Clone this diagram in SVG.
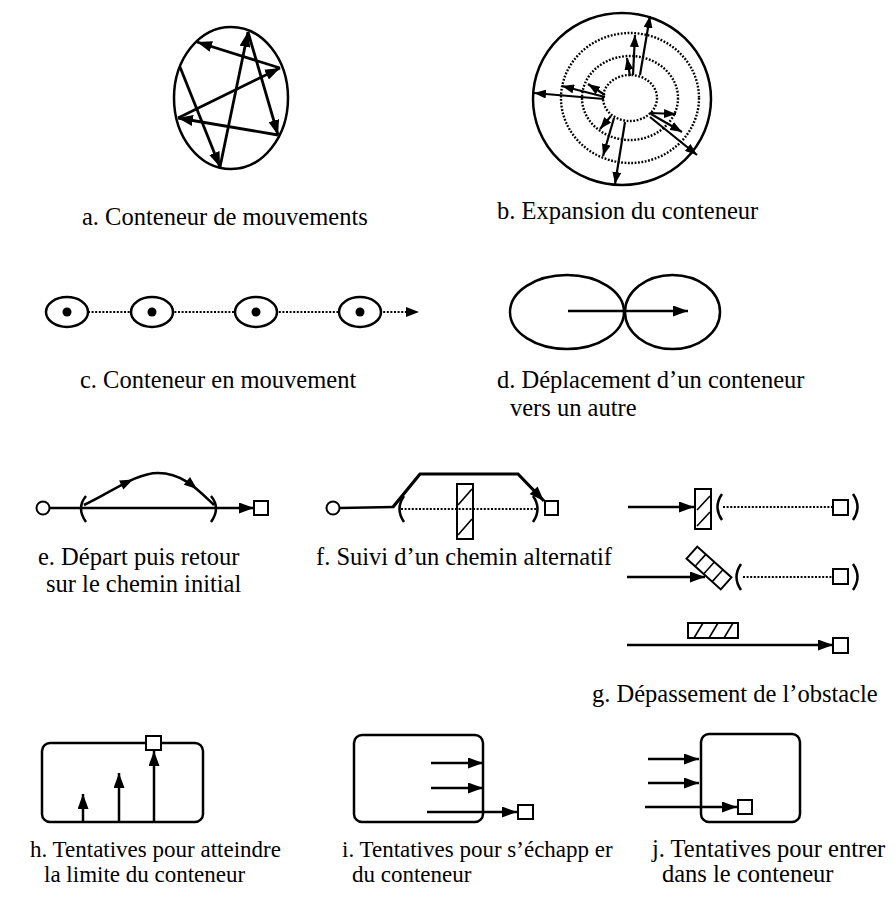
<svg xmlns="http://www.w3.org/2000/svg" width="896" height="904" viewBox="0 0 896 904">
<style>
.s{fill:none;stroke:#000;stroke-width:2.5}
.t{fill:none;stroke:#000;stroke-width:2.2}
.d{fill:none;stroke:#000;stroke-width:2;stroke-dasharray:2 1.6}
.w{fill:#fff;stroke:#000;stroke-width:2}
.dot{fill:none;stroke:#000;stroke-width:2.4;stroke-dasharray:1.8 1.6}
.h{stroke:#000;stroke-width:1.6}
.lbl{font-family:"Liberation Serif","Times New Roman","DejaVu Serif",serif;font-size:24.5px;fill:#000}
.sm{font-size:23px}
</style>
<defs>
<marker id="ah" viewBox="0 0 13 10" refX="13" refY="5" markerWidth="13" markerHeight="10" markerUnits="userSpaceOnUse" orient="auto"><path d="M0,0 L13,5 L0,10 z"/></marker>
<marker id="al" viewBox="0 0 15 11" refX="15" refY="5.5" markerWidth="15" markerHeight="11" markerUnits="userSpaceOnUse" orient="auto"><path d="M0,0 L15,5.5 L0,11 z"/></marker>
<marker id="as" viewBox="0 0 12 9" refX="12" refY="4.5" markerWidth="12" markerHeight="9" markerUnits="userSpaceOnUse" orient="auto"><path d="M0,0 L12,4.5 L0,9 z"/></marker>
<path id="tri" d="M0,0 L-13,-5 L-13,5 z"/>
</defs>

<g id="a">
<ellipse class="s" cx="231" cy="98" rx="57" ry="71"/>
<g class="s" style="stroke-width:2.8" marker-end="url(#al)">
<line x1="180" y1="67" x2="220" y2="167"/>
<line x1="220" y1="167" x2="248" y2="32"/>
<line x1="248" y1="32" x2="278" y2="135"/>
<line x1="278" y1="135" x2="178" y2="118"/>
<line x1="178" y1="118" x2="280" y2="68"/>
<line x1="280" y1="68" x2="197" y2="42"/>
</g>
<text class="lbl" x="82" y="225">a. Conteneur de mouvements</text>
</g>

<g id="b">
<ellipse class="s" cx="622" cy="99" rx="89" ry="86"/>
<ellipse class="dot" cx="630" cy="98" rx="69" ry="65"/>
<ellipse class="dot" cx="630" cy="98" rx="48" ry="42"/>
<ellipse class="dot" cx="630" cy="98" rx="27" ry="23"/>
<g class="t" marker-end="url(#as)">
<line x1="630" y1="76" x2="627" y2="58"/>
<line x1="633" y1="75" x2="635" y2="35"/>
<line x1="640" y1="75" x2="650" y2="16"/>
<line x1="605" y1="95" x2="588" y2="84"/>
<line x1="605" y1="97" x2="562" y2="86"/>
<line x1="604" y1="99" x2="534" y2="93"/>
<line x1="611" y1="116" x2="600" y2="129"/>
<line x1="614" y1="118" x2="603" y2="156"/>
<line x1="625" y1="122" x2="615" y2="184"/>
<line x1="650" y1="113" x2="676" y2="114"/>
<line x1="651" y1="114" x2="682" y2="132"/>
<line x1="650" y1="117" x2="697" y2="155"/>
</g>
<text class="lbl" x="497" y="219">b. Expansion du conteneur</text>
</g>

<g id="c">
<line class="d" x1="88" y1="312" x2="414" y2="312"/>
<polygon points="419,312 406,307 406,317"/>
<ellipse class="w" cx="67" cy="312" rx="21" ry="15" style="stroke-width:2.5"/>
<ellipse class="w" cx="152" cy="312" rx="21" ry="15" style="stroke-width:2.5"/>
<ellipse class="w" cx="256" cy="312" rx="21" ry="15" style="stroke-width:2.5"/>
<ellipse class="w" cx="360" cy="312" rx="21" ry="15" style="stroke-width:2.5"/>
<circle cx="67" cy="312" r="4.5"/>
<circle cx="152" cy="312" r="4.5"/>
<circle cx="256" cy="312" r="4.5"/>
<circle cx="360" cy="312" r="4.5"/>
<text class="lbl" x="80" y="388">c. Conteneur en mouvement</text>
</g>

<g id="d">
<ellipse class="s" cx="567" cy="312" rx="57" ry="37"/>
<ellipse class="s" cx="672.5" cy="312" rx="47.5" ry="37"/>
<line class="s" x1="568" y1="311" x2="688" y2="311" marker-end="url(#al)"/>
<text class="lbl" x="497" y="388">d. Déplacement d’un conteneur</text>
<text class="lbl" x="510" y="416">vers un autre</text>
</g>

<g id="e">
<line class="s" x1="49.5" y1="508" x2="254" y2="508" marker-end="url(#al)"/>
<circle class="w" cx="43" cy="508" r="6.5"/>
<rect class="w" x="254" y="501" width="14" height="14"/>
<path class="s" d="M86,496 Q76,508 86,522"/>
<path class="s" d="M211,496 Q221,508 211,522"/>
<path class="s" d="M84,505 C112,492 136,473 158,473 C184,473 200,492 214,505"/>
<use href="#tri" transform="translate(133,479.5) rotate(-25)"/>
<use href="#tri" transform="translate(197,489) rotate(39)"/>
<text class="lbl" x="38" y="565">e. Départ puis retour</text>
<text class="lbl" x="46" y="592">sur le chemin initial</text>
</g>

<g id="f">
<line class="s" x1="339.5" y1="508" x2="394" y2="507"/>
<circle class="w" cx="333" cy="508" r="6.5"/>
<rect class="w" x="457" y="484" width="16" height="55"/>
<line class="h" x1="458" y1="505" x2="472" y2="489"/>
<line class="h" x1="458" y1="535" x2="472" y2="519"/>
<line class="d" x1="401" y1="509" x2="537" y2="509"/>
<path class="s" d="M404,496 Q395,509 404,522"/>
<path class="s" d="M533,496 Q542,509 533,522"/>
<path d="M393,507 L420,474 L518,474 L544,501" style="fill:none;stroke:#000;stroke-width:3.2;stroke-linejoin:miter" marker-end="url(#al)"/>
<rect class="w" x="545" y="501" width="13" height="14"/>
<text class="lbl" x="316" y="565">f. Suivi d’un chemin alternatif</text>
</g>

<g id="g">
<line class="s" x1="628" y1="507" x2="694" y2="507" marker-end="url(#al)"/>
<rect class="w" x="695" y="489" width="16" height="40"/>
<line class="h" x1="697" y1="510" x2="710" y2="496"/>
<line class="h" x1="697" y1="526" x2="710" y2="512"/>
<path class="s" d="M722,494 Q713,507 722,520"/>
<line class="d" x1="723" y1="507" x2="833" y2="507"/>
<rect class="w" x="833" y="500" width="15" height="15"/>
<path class="s" d="M853,494 Q862,507 853,520"/>

<line class="s" x1="627" y1="577" x2="705" y2="577" marker-end="url(#al)"/>
<g transform="rotate(42 709 568)">
<rect class="w" x="686" y="560" width="46" height="16"/>
<line class="h" x1="697.5" y1="560" x2="697.5" y2="576"/>
<line class="h" x1="709" y1="560" x2="709" y2="576"/>
<line class="h" x1="720.5" y1="560" x2="720.5" y2="576"/>
</g>
<path class="s" d="M741,564 Q732,577 741,590"/>
<line class="d" x1="743" y1="577" x2="833" y2="577"/>
<rect class="w" x="833" y="569" width="15" height="15"/>
<path class="s" d="M853,564 Q862,577 853,590"/>

<rect class="w" x="688" y="623" width="50" height="15"/>
<line class="h" x1="694" y1="638" x2="703" y2="623"/>
<line class="h" x1="709" y1="638" x2="718" y2="623"/>
<line class="h" x1="724" y1="638" x2="733" y2="623"/>
<line class="s" x1="627" y1="645" x2="833" y2="645" marker-end="url(#al)"/>
<rect class="w" x="833" y="638" width="15" height="15"/>
<text class="lbl" x="592" y="702">g. Dépassement de l’obstacle</text>
</g>

<g id="h">
<rect class="s" x="42" y="743" width="161" height="79" rx="8"/>
<g class="s" marker-end="url(#al)">
<line x1="83" y1="822" x2="83" y2="794"/>
<line x1="119" y1="822" x2="119" y2="773"/>
<line x1="154" y1="822" x2="154" y2="751"/>
</g>
<rect class="w" x="146" y="736" width="15" height="14"/>
<text class="lbl sm" x="30" y="857">h. Tentatives pour atteindre</text>
<text class="lbl sm" x="44" y="882">la limite du conteneur</text>
</g>

<g id="i">
<rect class="s" x="354" y="735" width="129" height="87" rx="8"/>
<g class="s" marker-end="url(#al)">
<line x1="431" y1="763" x2="483" y2="763"/>
<line x1="431" y1="788" x2="483" y2="788"/>
<line x1="427" y1="812" x2="517" y2="812"/>
</g>
<rect class="w" x="518" y="805" width="15" height="14"/>
<text class="lbl sm" x="342" y="857">i. Tentatives pour s’échapp er</text>
<text class="lbl sm" x="352" y="882">du conteneur</text>
</g>

<g id="j">
<rect class="s" x="701" y="734" width="99" height="88" rx="8"/>
<g class="s" marker-end="url(#al)">
<line x1="648" y1="759" x2="699" y2="759"/>
<line x1="648" y1="783" x2="699" y2="783"/>
<line x1="645" y1="807" x2="737" y2="807"/>
</g>
<rect class="w" x="738" y="800" width="14" height="14"/>
<text class="lbl" x="652" y="857">j. Tentatives pour entrer</text>
<text class="lbl" x="662" y="882">dans le conteneur</text>
</g>
</svg>
